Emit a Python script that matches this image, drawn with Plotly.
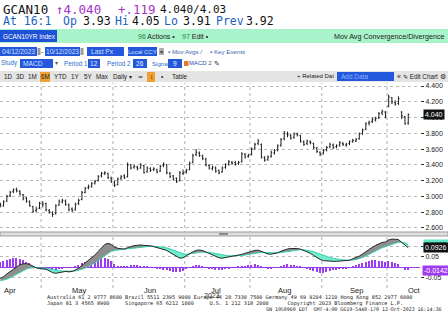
import pandas as pd
import numpy as np
import plotly.graph_objects as go

W, H = 448, 322

# ---------------- data ----------------
holidays = ['2023-05-22', '2023-07-03', '2023-08-07', '2023-09-04', '2023-10-02', '2023-10-09']

open_px = [2.90, 2.88, 2.94, 3.01, 3.06, 3.09, 3.06, 3.02, 2.98, 2.93, 2.87, 2.82, 2.85,
           2.90, 2.91, 2.82, 2.79, 2.78, 2.89, 2.93, 2.94, 2.89, 2.84, 2.83, 2.91, 2.96, 3.05, 3.11,
           3.13, 3.17, 3.20, 3.26, 3.29, 3.29, 3.23,
           3.18, 3.15, 3.23, 3.26, 3.25, 3.40, 3.37, 3.37, 3.36, 3.39, 3.31, 3.35, 3.34, 3.34, 3.32,
           3.39, 3.40, 3.29, 3.26, 3.23, 3.20, 3.29,
           3.31, 3.34, 3.43, 3.53, 3.55, 3.51, 3.47, 3.39, 3.35, 3.36, 3.33, 3.31, 3.37, 3.41, 3.43,
           3.43, 3.42, 3.44, 3.53, 3.51,
           3.53, 3.61, 3.67, 3.66, 3.49, 3.47, 3.51, 3.55, 3.59, 3.65, 3.73, 3.79, 3.77, 3.75, 3.79,
           3.77, 3.69, 3.67, 3.69, 3.67, 3.61, 3.56,
           3.55, 3.59, 3.63, 3.65, 3.63, 3.65, 3.67, 3.65, 3.67, 3.70, 3.70, 3.73, 3.80, 3.85, 3.93,
           3.95, 3.97, 4.00, 4.06, 4.07,
           4.14, 4.25, 4.19, 4.18, 4.07, 4.01, 3.93]
high_px = [2.92, 2.95, 3.02, 3.07, 3.10, 3.11, 3.08, 3.03, 2.99, 2.95, 2.88, 2.87, 2.93,
           2.94, 2.92, 2.84, 2.81, 2.90, 2.96, 2.97, 2.96, 2.91, 2.86, 2.92, 2.97, 3.07, 3.12, 3.15,
           3.18, 3.21, 3.27, 3.31, 3.32, 3.30, 3.25,
           3.20, 3.24, 3.27, 3.28, 3.43, 3.41, 3.40, 3.39, 3.42, 3.40, 3.38, 3.37, 3.37, 3.35, 3.40,
           3.43, 3.41, 3.31, 3.27, 3.24, 3.32, 3.34,
           3.35, 3.44, 3.54, 3.60, 3.57, 3.53, 3.49, 3.41, 3.39, 3.38, 3.34, 3.38, 3.42, 3.46, 3.45,
           3.45, 3.45, 3.56, 3.55, 3.54,
           3.62, 3.68, 3.73, 3.67, 3.51, 3.52, 3.58, 3.60, 3.66, 3.74, 3.83, 3.82, 3.79, 3.81, 3.81,
           3.78, 3.71, 3.72, 3.71, 3.68, 3.63, 3.57,
           3.60, 3.64, 3.68, 3.67, 3.66, 3.70, 3.69, 3.68, 3.71, 3.73, 3.74, 3.81, 3.86, 3.94, 3.96,
           4.00, 4.01, 4.07, 4.10, 4.08,
           4.29, 4.26, 4.22, 4.27, 4.08, 4.02, 4.05]
low_px = [2.86, 2.87, 2.93, 2.99, 3.04, 3.05, 3.01, 2.95, 2.92, 2.87, 2.79, 2.80, 2.84,
          2.86, 2.81, 2.78, 2.74, 2.77, 2.88, 2.91, 2.88, 2.81, 2.80, 2.82, 2.89, 2.95, 3.04, 3.09,
          3.11, 3.15, 3.19, 3.24, 3.27, 3.22, 3.17,
          3.12, 3.14, 3.21, 3.22, 3.24, 3.34, 3.35, 3.33, 3.35, 3.29, 3.30, 3.31, 3.32, 3.29, 3.31,
          3.37, 3.28, 3.23, 3.20, 3.17, 3.19, 3.27,
          3.29, 3.33, 3.42, 3.51, 3.50, 3.46, 3.38, 3.34, 3.33, 3.30, 3.28, 3.30, 3.35, 3.39, 3.40,
          3.39, 3.40, 3.43, 3.48, 3.49,
          3.52, 3.59, 3.65, 3.48, 3.44, 3.45, 3.49, 3.53, 3.57, 3.63, 3.71, 3.75, 3.72, 3.73, 3.76,
          3.68, 3.64, 3.65, 3.66, 3.60, 3.55, 3.51,
          3.53, 3.57, 3.61, 3.60, 3.61, 3.63, 3.64, 3.63, 3.65, 3.68, 3.69, 3.72, 3.78, 3.84, 3.90,
          3.93, 3.95, 3.98, 4.03, 3.99,
          4.13, 4.17, 4.15, 4.16, 3.98, 3.91, 3.91]
close_px = [2.89, 2.93, 3.00, 3.05, 3.08, 3.07, 3.03, 2.97, 2.94, 2.88, 2.81, 2.84, 2.91,
            2.90, 2.83, 2.80, 2.77, 2.88, 2.94, 2.95, 2.90, 2.83, 2.82, 2.90, 2.95, 3.05, 3.10, 3.12,
            3.16, 3.19, 3.25, 3.29, 3.30, 3.24, 3.19,
            3.14, 3.22, 3.25, 3.24, 3.40, 3.36, 3.38, 3.35, 3.40, 3.30, 3.36, 3.33, 3.35, 3.31, 3.38,
            3.41, 3.30, 3.25, 3.22, 3.19, 3.30, 3.30,
            3.33, 3.42, 3.52, 3.56, 3.52, 3.48, 3.40, 3.36, 3.37, 3.32, 3.30, 3.36, 3.40, 3.44, 3.42,
            3.41, 3.43, 3.54, 3.50, 3.52,
            3.60, 3.66, 3.70, 3.50, 3.46, 3.50, 3.56, 3.58, 3.64, 3.72, 3.80, 3.78, 3.74, 3.79, 3.78,
            3.70, 3.66, 3.70, 3.68, 3.62, 3.57, 3.54,
            3.58, 3.62, 3.66, 3.62, 3.64, 3.68, 3.66, 3.66, 3.69, 3.71, 3.72, 3.79, 3.84, 3.92, 3.94,
            3.98, 3.99, 4.05, 4.08, 4.02,
            4.26, 4.20, 4.17, 4.24, 4.02, 3.92, 4.04]

macd_line = [-0.053, -0.045, -0.032, -0.020, -0.008, 0.004, 0.012, 0.016, 0.017, 0.013, 0.005, -0.003, -0.006,
             -0.008, -0.010, -0.017, -0.026, -0.029, -0.027, -0.022, -0.020, -0.022, -0.020, -0.013, -0.005,
             0.008, 0.020, 0.032, 0.045, 0.058, 0.075, 0.092, 0.108, 0.114, 0.108,
             0.096, 0.090, 0.088, 0.087, 0.093, 0.099, 0.103, 0.104, 0.106, 0.104, 0.104, 0.102, 0.098, 0.094,
             0.090, 0.086, 0.080, 0.070, 0.060, 0.050, 0.043, 0.045,
             0.055, 0.065, 0.073, 0.080, 0.082, 0.079, 0.072, 0.064, 0.057, 0.050, 0.045, 0.043, 0.045, 0.049,
             0.052, 0.055, 0.057, 0.061, 0.066, 0.071,
             0.076, 0.080, 0.081, 0.075, 0.068, 0.063, 0.062, 0.064, 0.069, 0.076, 0.083, 0.087, 0.089, 0.090,
             0.089, 0.086, 0.080, 0.074, 0.066, 0.056, 0.046, 0.037,
             0.031, 0.029, 0.029, 0.028, 0.028, 0.029, 0.029, 0.030, 0.033, 0.040, 0.045, 0.053, 0.063, 0.075,
             0.085, 0.095, 0.104, 0.112, 0.118, 0.120,
             0.130, 0.134, 0.134, 0.132, 0.118, 0.104, 0.0926]
signal_line = [-0.065, -0.062, -0.057, -0.050, -0.042, -0.033, -0.024, -0.016, -0.009, -0.004, -0.002, -0.002, -0.003,
               -0.004, -0.005, -0.007, -0.011, -0.015, -0.017, -0.018, -0.019, -0.019, -0.019, -0.018, -0.015,
               -0.010, -0.004, 0.003, 0.012, 0.021, 0.032, 0.044, 0.057, 0.068, 0.076,
               0.080, 0.082, 0.083, 0.084, 0.086, 0.089, 0.092, 0.094, 0.097, 0.098, 0.100, 0.100, 0.100, 0.099,
               0.097, 0.095, 0.092, 0.088, 0.082, 0.076, 0.069, 0.064,
               0.062, 0.063, 0.065, 0.068, 0.071, 0.072, 0.072, 0.071, 0.068, 0.065, 0.061, 0.057, 0.055, 0.054,
               0.054, 0.054, 0.055, 0.056, 0.058, 0.061,
               0.064, 0.067, 0.070, 0.071, 0.070, 0.069, 0.068, 0.067, 0.068, 0.070, 0.072, 0.075, 0.078, 0.081,
               0.082, 0.083, 0.082, 0.081, 0.078, 0.074, 0.068, 0.062,
               0.056, 0.050, 0.046, 0.042, 0.039, 0.037, 0.035, 0.034, 0.033, 0.034, 0.036, 0.040, 0.046, 0.053,
               0.061, 0.069, 0.078, 0.086, 0.093, 0.098,
               0.104, 0.110, 0.114, 0.118, 0.119, 0.116, 0.1068]
macd_hist = [0.025, 0.030, 0.036, 0.040, 0.043, 0.043, 0.041, 0.035, 0.027, 0.018, 0.008, 0.000, -0.004,
             -0.005, -0.006, -0.010, -0.014, -0.014, -0.010, -0.005, -0.002, -0.003, -0.001, 0.005, 0.011,
             0.018, 0.025, 0.030, 0.034, 0.038, 0.043, 0.046, 0.045, 0.040, 0.030,
             0.015, 0.006, 0.004, 0.003, 0.006, 0.009, 0.010, 0.009, 0.008, 0.006, 0.004, 0.001, -0.002, -0.005,
             -0.008, -0.011, -0.014, -0.018, -0.022, -0.025, -0.024, -0.019,
             -0.010, -0.002, 0.006, 0.010, 0.010, 0.008, 0.000, -0.006, -0.010, -0.012, -0.013, -0.012, -0.010,
             -0.006, -0.003, 0.000, 0.002, 0.005, 0.008, 0.010,
             0.012, 0.013, 0.010, 0.004, -0.002, -0.004, -0.005, -0.003, 0.001, 0.006, 0.011, 0.013, 0.012, 0.010,
             0.008, 0.004, -0.002, -0.008, -0.013, -0.019, -0.023, -0.026,
             -0.026, -0.022, -0.018, -0.014, -0.011, -0.008, -0.006, -0.004, -0.002, 0.004, 0.010, 0.016, 0.022,
             0.027, 0.030, 0.032, 0.032, 0.031, 0.030, 0.026,
             0.028, 0.026, 0.021, 0.015, 0.000, -0.012, -0.0142]

price_ticks = [2.6, 2.8, 3.0, 3.2, 3.4, 3.6, 3.8, 4.0, 4.2, 4.4]
macd_ticks = [-0.05, 0.05, 0.1]
month_names = ['Apr', 'May', 'Jun', 'Jul', 'Aug', 'Sep', 'Oct']

# ---------------- derived axis helpers ----------------
n = len(close_px)
cal = pd.bdate_range('2023-04-12', '2023-10-31', freq='C', holidays=holidays)
dates = cal[:n]
idx = list(range(n))
months = pd.Series(cal.month, index=range(len(cal)))
first_of_month = [int(months[months == mm].index[0]) for mm in sorted(set(cal.month))]
boundaries = [i - 0.5 for i in first_of_month[1:]]
label_pos = []
for mm in sorted(set(cal.month)):
    sel = [k for k, d in enumerate(cal) if d.month == mm and d.day >= 16]
    label_pos.append(sel[0])


def px(x):
    return x / W


def py(y):
    return 1 - y / H


fig = go.Figure()

# ---------------- price pane ----------------
fig.add_trace(go.Ohlc(
    x=idx, open=open_px, high=high_px, low=low_px, close=close_px,
    increasing=dict(line=dict(color='#1c1c1c', width=1)),
    decreasing=dict(line=dict(color='#1c1c1c', width=1)),
    tickwidth=0.32, xaxis='x', yaxis='y', showlegend=False, hoverinfo='skip'))

# ---------------- MACD pane ----------------
m = np.array(macd_line)
s = np.array(signal_line)
upper = np.maximum(m, s)
fig.add_trace(go.Scatter(x=idx, y=s, mode='lines', line=dict(width=0, color='rgba(0,0,0,0)'),
                         yaxis='y2', showlegend=False, hoverinfo='skip'))
fig.add_trace(go.Scatter(x=idx, y=upper, mode='lines', line=dict(width=0, color='rgba(0,0,0,0)'),
                         fill='tonexty', fillcolor='#8e8e8e', yaxis='y2', showlegend=False, hoverinfo='skip'))
fig.add_trace(go.Scatter(x=idx, y=m, mode='lines', line=dict(width=0, color='rgba(0,0,0,0)'),
                         yaxis='y2', showlegend=False, hoverinfo='skip'))
fig.add_trace(go.Scatter(x=idx, y=upper, mode='lines', line=dict(width=0, color='rgba(0,0,0,0)'),
                         fill='tonexty', fillcolor='#6eeccd', yaxis='y2', showlegend=False, hoverinfo='skip'))
fig.add_trace(go.Bar(x=idx, y=macd_hist, marker=dict(color='#9a3cf2', line=dict(width=0)), width=0.45,
                     yaxis='y2', showlegend=False, hoverinfo='skip'))
fig.add_trace(go.Scatter(x=idx, y=signal_line, mode='lines', line=dict(width=1, color='#37d2b0'),
                         yaxis='y2', showlegend=False, hoverinfo='skip'))
fig.add_trace(go.Scatter(x=idx, y=macd_line, mode='lines', line=dict(width=1, color='#262626'),
                         yaxis='y2', showlegend=False, hoverinfo='skip'))

UI = 'Liberation Sans, Arial'
AX = 'Liberation Sans, Arial'

fig.update_layout(
    width=W, height=H, margin=dict(l=0, r=0, t=0, b=0),
    paper_bgcolor='white', plot_bgcolor='white',
    bargap=0,
    xaxis=dict(domain=[0, px(420)], range=[-0.1, 128.6], showgrid=False, zeroline=False,
               showticklabels=False, ticks='', showline=False, rangeslider=dict(visible=False),
               fixedrange=True),
    yaxis=dict(domain=[py(232), py(83)], range=[2.548, 4.438], side='right',
               tickvals=price_ticks, ticktext=[f'{v:.3f}' for v in price_ticks],
               showgrid=True, gridcolor='#b8b8b8', griddash='dot', gridwidth=1,
               ticks='outside', ticklen=3, tickcolor='#333', tickfont=dict(size=7, color='#222', family=AX),
               zeroline=False, showline=False, fixedrange=True),
    yaxis2=dict(domain=[py(286), py(236)], range=[-0.0895, 0.1486], side='right', anchor='x',
                tickvals=macd_ticks, ticktext=['-0.05', '0.05', ''],
                showgrid=True, gridcolor='#b8b8b8', griddash='dot', gridwidth=1,
                ticks='outside', ticklen=3, tickcolor='#333', tickfont=dict(size=7, color='#222', family=AX),
                zeroline=True, zerolinecolor='#9a3cf2', zerolinewidth=1, showline=False, fixedrange=True),
)

shapes = []
for b in boundaries:
    if b < 128.6:
        shapes.append(dict(type='line', xref='x', yref='paper', x0=b, x1=b, y0=py(288), y1=py(83),
                           line=dict(color='#b0b0b0', width=1, dash='dot'), layer='below'))
shapes.append(dict(type='rect', xref='paper', yref='paper', x0=0, x1=1, y0=py(236), y1=py(232),
                   fillcolor='#dedede', line=dict(color='#9c9c9c', width=1), layer='above'))
shapes.append(dict(type='rect', xref='paper', yref='paper', x0=px(219), x1=px(228), y0=py(235), y1=py(233),
                   fillcolor='#8a8a8a', line=dict(width=0), layer='above'))
shapes.append(dict(type='rect', xref='paper', yref='paper', x0=0, x1=1, y0=py(43), y1=py(29),
                   fillcolor='#a8f3c9', line=dict(width=0)))
shapes.append(dict(type='rect', xref='paper', yref='paper', x0=0, x1=px(57), y0=py(42), y1=py(30),
                   fillcolor='#1f50d8', line=dict(width=0)))
shapes.append(dict(type='rect', xref='paper', yref='paper', x0=0, x1=1, y0=py(82), y1=py(71),
                   fillcolor='#e4e4e4', line=dict(width=0)))


def box(x0, x1, y0, y1, color):
    shapes.append(dict(type='rect', xref='paper', yref='paper', x0=px(x0), x1=px(x1), y0=py(y1), y1=py(y0),
                       fillcolor=color, line=dict(width=0)))


BLUE = '#2358dc'
box(0, 37, 47, 56, BLUE)
box(37.5, 40.5, 48, 55, '#9a9a9a')
box(45, 80, 47, 56, BLUE)
box(80.5, 83.5, 48, 55, '#9a9a9a')
box(87, 124, 47, 56, BLUE)
box(128, 157, 47, 56, BLUE)
box(159, 164, 48, 55, '#b0b0b0')
box(20, 53, 59, 68, BLUE)
box(88, 100, 59, 68, BLUE)
box(133, 147, 59, 68, BLUE)
box(168, 182, 59, 68, BLUE)
box(184, 188.5, 61, 66, '#e8762c')
box(40, 50, 72, 82, '#f0a030')
box(147, 155, 72, 82, '#f0a030')
box(337, 394, 72, 81, BLUE)
fig.update_layout(shapes=shapes)

ann = []


def txt(x, y, s, size=8, color='#111', fam=UI, anchor='left', bg=None, yref='paper', xref='paper'):
    ann.append(dict(x=px(x) if xref == 'paper' else x, y=py(y) if yref == 'paper' else y,
                    xref=xref, yref=yref, text=s, showarrow=False, xanchor=anchor, yanchor='middle',
                    font=dict(size=size, color=color, family=fam), bgcolor=bg, borderpad=1))


MONO = 'DejaVu Sans Mono'
PURP = '#a531c8'
BL = '#1b5fc0'
# line 1
txt(1, 9, 'GCAN10', 12.5, '#111', MONO)
txt(54, 9, '\u2191' + f'{close_px[-1]:.3f}', 12.5, PURP, MONO)
txt(116, 9, '+.119', 12.5, PURP, MONO)
txt(158, 9, '4.040/4.03', 11, '#111', MONO)
# line 2
L2 = 11.5
txt(1, 21, 'At 16:1', L2, BL, MONO)
txt(61, 21, 'Op', L2, BL, MONO)
txt(81, 21, f'{open_px[-1]:.2f}', L2, '#111', MONO)
txt(113, 21, 'Hi', L2, BL, MONO)
txt(130, 21, f'{high_px[-1]:.2f}', L2, '#111', MONO)
txt(162, 21, 'Lo', L2, BL, MONO)
txt(181, 21, f'{low_px[-1]:.2f}', L2, '#111', MONO)
txt(214, 21, 'Prev', L2, BL, MONO)
txt(244, 21, f'{close_px[-2]:.2f}', L2, '#111', MONO)
# green bar
txt(0.5, 36, 'GCAN10YR Index', 6.4, 'white')
txt(136, 36, '<span style="color:#1c8a3c">96</span> Actions \u2022', 7, '#222')
txt(180, 36, '<span style="color:#1c8a3c">97</span> Edit \u2022', 7, '#222')
txt(447, 36, 'Mov Avg Convergence/Divergence', 7.2, '#222', anchor='right')
# row 3
txt(18.5, 51.5, '04/12/2023', 6.6, '#cfe0ff', anchor='center')
txt(42.5, 51.5, '-', 7, '#333', anchor='center')
txt(62.5, 51.5, '10/12/2023', 6.6, '#cfe0ff', anchor='center')
txt(88.5, 51.5, 'Last Px', 6.6, '#cfe0ff')
txt(142.5, 51.5, 'Local CCY', 6, '#cfe0ff', anchor='center')
txt(161.5, 51.5, '\u25be', 6, '#444', anchor='center')
txt(185, 51.5, '\u25aa Mov Avgs /', 6.2, '#3a64b0', anchor='center')
txt(227, 51.5, '\u25aa Key Events', 6.2, '#3a64b0', anchor='center')
# row 4
txt(9, 63.5, 'Study', 6.3, '#2a6cc8', anchor='center')
txt(21, 63.5, 'MACD', 6.6, '#cfe0ff')
txt(56, 63.5, '\u25be', 6, '#555', anchor='center')
txt(75.5, 63.5, 'Period 1', 6.3, '#2a6cc8', anchor='center')
txt(94, 63.5, '12', 6.6, '#e8f0ff', anchor='center')
txt(119, 63.5, 'Period 2', 6.3, '#2a6cc8', anchor='center')
txt(140, 63.5, '26', 6.6, '#e8f0ff', anchor='center')
txt(160, 63.5, 'Signal', 6.1, '#2a6cc8', anchor='center')
txt(175, 63.5, '9', 6.6, '#e8f0ff', anchor='center')
txt(200, 63.5, 'MACD 2', 6, '#2a4ca8', anchor='center')
txt(217, 63.5, '\u270e', 7, '#222', anchor='center')
# toolbar
for x, s_ in [(8.5, '1D'), (20, '3D'), (32.5, '1M'), (45, '6M'), (61, 'YTD'), (75.5, '1Y'), (88.5, '5Y'),
              (102.5, 'Max'), (122.5, 'Daily \u25be'), (140.5, '\u2243'), (151, '\u2195'), (162, '\u2022'),
              (180, 'Table')]:
    txt(x, 77, s_, 6.3, '#222', anchor='center')
txt(315.5, 76.5, '+ Related Dat', 6, '#222', anchor='center')
txt(339, 76.5, 'Add Data', 6.5, '#8fb0ff')
txt(399, 76.5, '\u00ab', 7, '#222', anchor='center')
txt(420, 76.5, '\u270e Edit Chart', 6.3, '#222', anchor='center')
txt(443, 76.5, '\u2699', 7, '#222', anchor='center')

# right value boxes
txt(423, close_px[-1], f'{close_px[-1]:.3f}', 7, 'white', AX, bg='#111', yref='y')
txt(423, signal_line[-1], f'{signal_line[-1]:.4f}', 7, '#063', AX, bg='#5fe8c6', yref='y2')
txt(423, macd_line[-1], f'{macd_line[-1]:.4f}', 7, 'white', AX, bg='#111', yref='y2')
txt(422, macd_hist[-1], f'{macd_hist[-1]:.4f}', 7, 'white', AX, bg='#a03cf0', yref='y2')

# month labels
for pos, name in zip(label_pos, month_names):
    ann.append(dict(x=pos, y=py(290.5), xref='x', yref='paper', text=name, showarrow=False,
                    xanchor='center', yanchor='middle', font=dict(size=7.5, color='#222', family=AX)))
txt(212, 295, '2023', 7, '#333', AX, anchor='center')

# footer
txt(45, 297.8, 'Australia 61 2 9777 8600 Brazil 5511 2395 9000 Europe 44 20 7330 7500 '
               'Germany 49 69 9204 1210 Hong Kong 852 2977 6000', 5.2, '#222', MONO)
txt(45, 303.2, 'Japan 81 3 4565 8900     Singapore 65 6212 1000     U.S. 1 212 318 2000      '
               'Copyright 2023 Bloomberg Finance L.P.', 5.2, '#222', MONO)
txt(264, 308.6, 'SN 1950960 EDT  GMT-4:00 G619-5440-170 12-Oct-2023 16:14:36', 4.95, '#222', MONO)

fig.update_layout(annotations=ann)
fig.write_html('out.html')
